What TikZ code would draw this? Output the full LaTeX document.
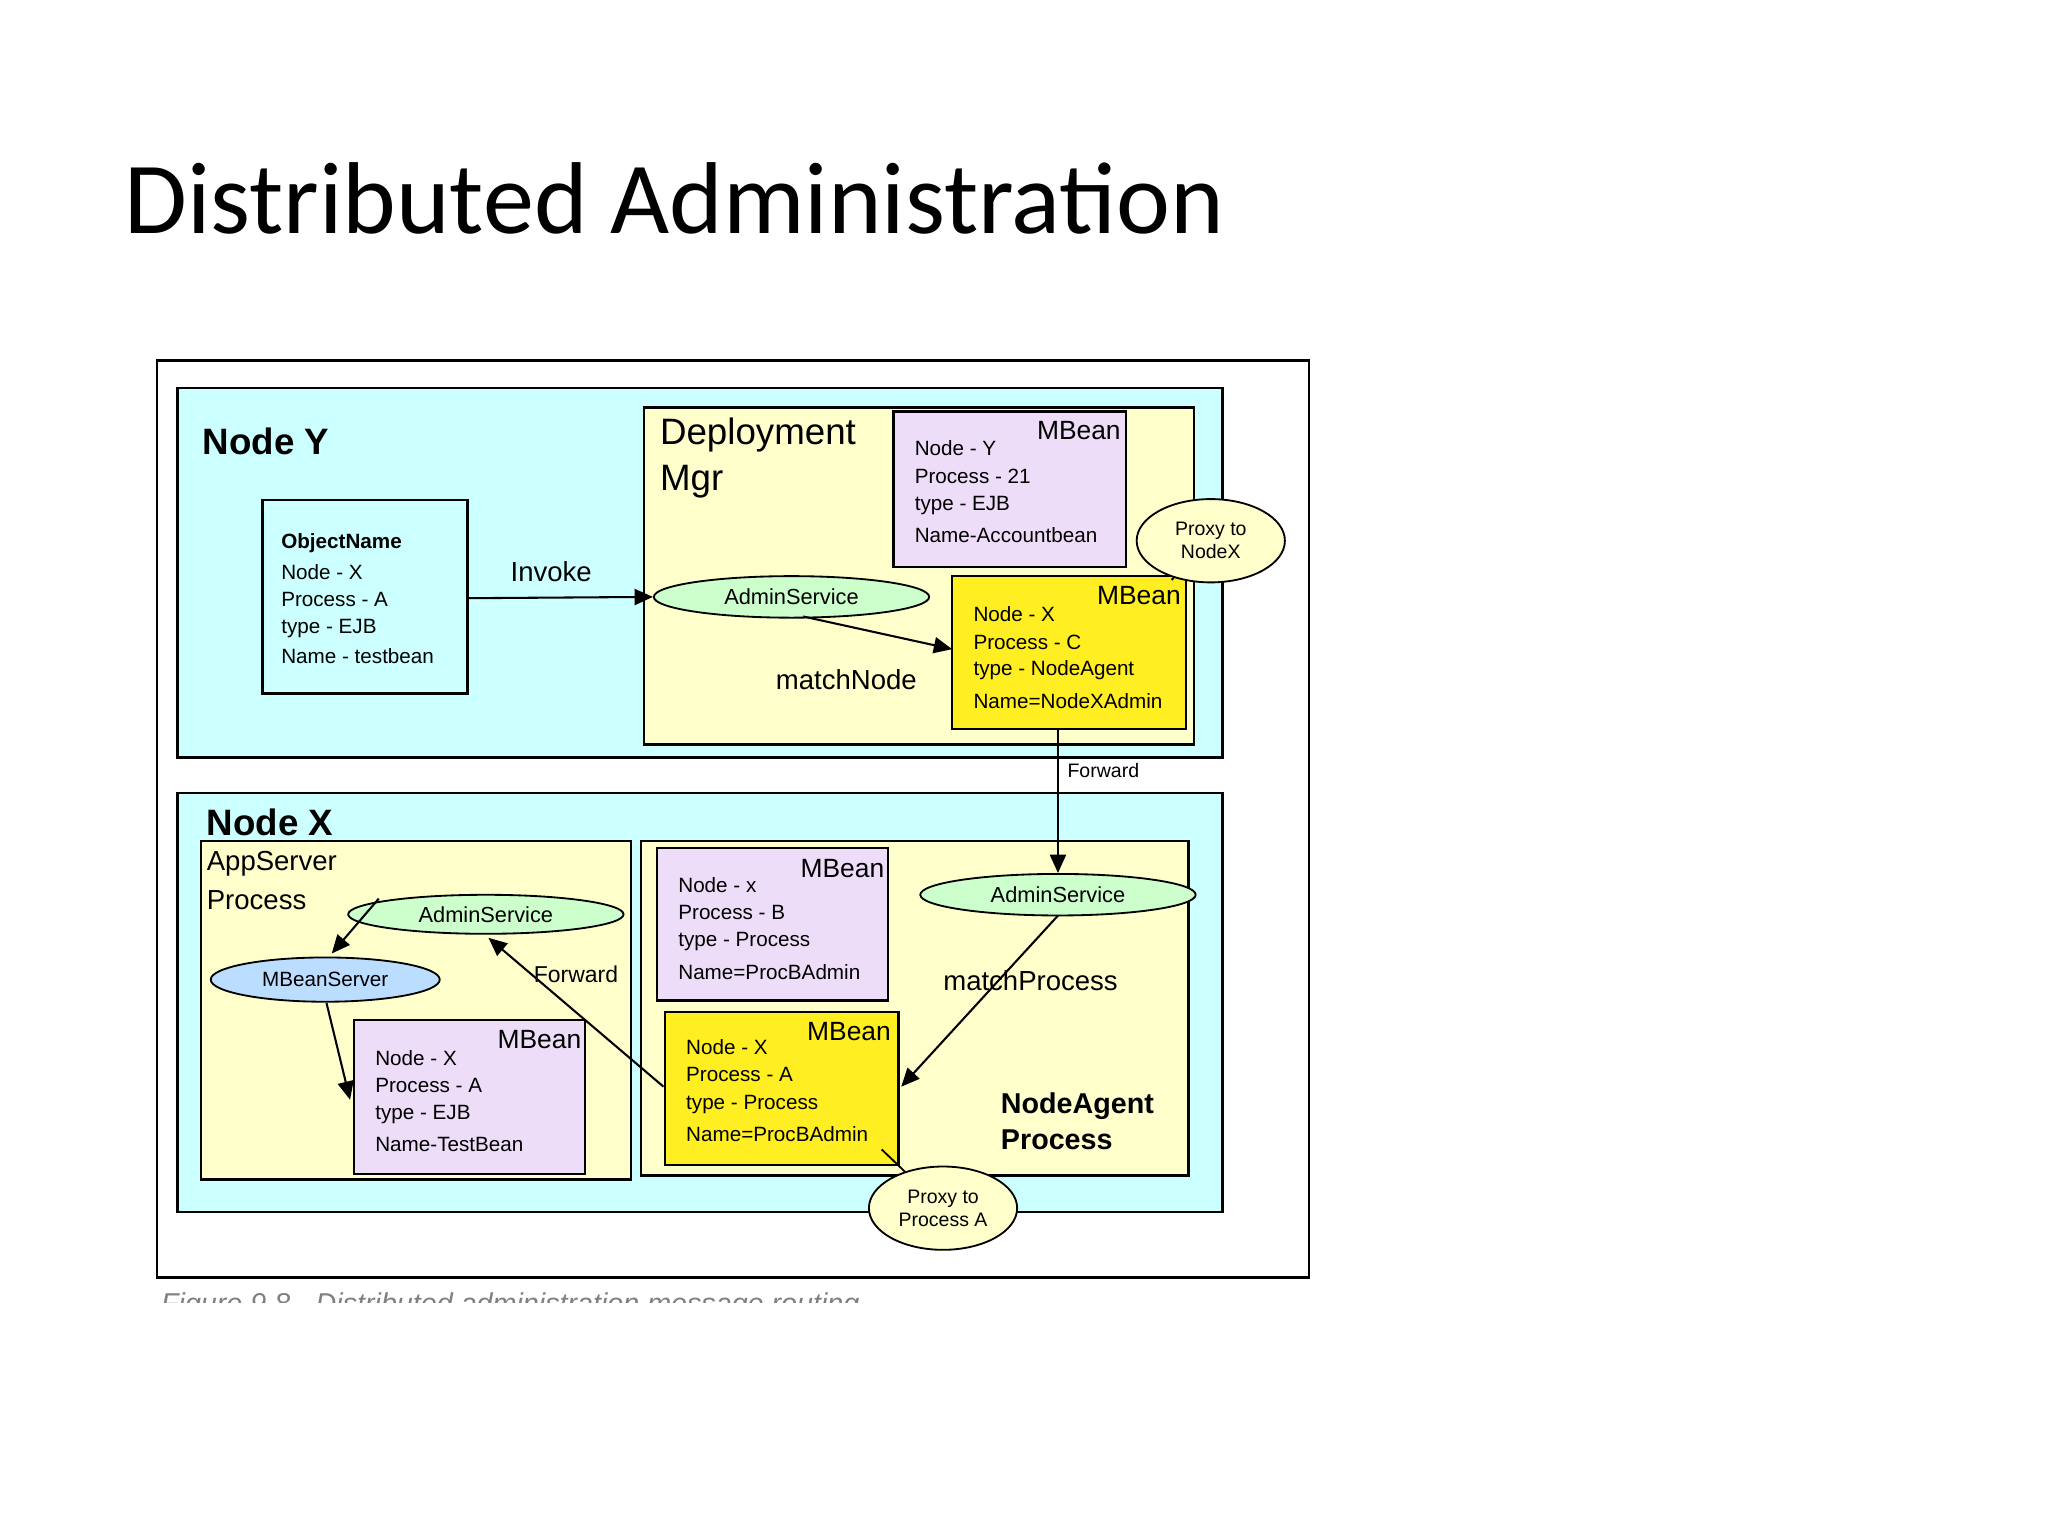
\documentclass[tikz,border=0pt]{standalone}
\usepackage{fontspec}
\setmainfont{Liberation Sans}
\newfontfamily\titlefont{Carlito}
\usetikzlibrary{arrows.meta,shapes.geometric}
\definecolor{cyanbg}{HTML}{CCFFFF}
\definecolor{ylbg}{HTML}{FFFFCC}
\definecolor{purp}{HTML}{EEDDF8}
\definecolor{yel}{HTML}{FFEE22}
\definecolor{grn}{HTML}{CCFFCC}
\definecolor{blu}{HTML}{BBDDFF}
\begin{document}
\begin{tikzpicture}[x=0.02cm,y=-0.02cm,
  box/.style={draw=black,line width=1pt},
  ell/.style={draw=black,ellipse,line width=0.8pt,inner sep=0},
  sm/.style={font=\fontsize{9}{10}\selectfont,anchor=west,inner sep=0},
  mb/.style={font=\fontsize{11.5}{12}\selectfont,inner sep=0},
  big/.style={font=\fontsize{16}{17}\selectfont\bfseries,anchor=west,inner sep=0},
  mid/.style={font=\fontsize{12}{13}\selectfont,inner sep=0},
  arr/.style={-{Triangle[length=8pt,width=7pt]},line width=0.9pt}]
\useasboundingbox (0,0) rectangle (1568,1176);
\fill[white] (0,0) rectangle (1568,1176);
\node[anchor=west,inner sep=0,font=\titlefont\fontsize{44.5}{46}\selectfont] (title) at (95,152) {Distributed Administration};
\draw[box,fill=white] (120,276) rectangle (1002,978);
% Node Y
\draw[box,fill=cyanbg] (136,297) rectangle (936,580);
\node[big] (ny) at (155,338) {Node Y};
\draw[box,fill=cyanbg] (201,383) rectangle (358,531);
\node[sm,font=\fontsize{9}{10}\selectfont\bfseries] (on) at (215,416) {ObjectName};
\node[sm] (on1) at (215,438) {Node - X};
\node[sm] (on2) at (215,459) {Process - A};
\node[sm] (on3) at (215,481) {type - EJB};
\node[sm] (on4) at (215,502) {Name - testbean};
\coordinate (objr) at (358,458);
\draw[box,fill=ylbg] (493,312) rectangle (914,570);
\node[sm,font=\fontsize{16}{17}\selectfont] (dm1) at (505,333) {Deployment};
\node[sm,font=\fontsize{16}{17}\selectfont] (dm2) at (505,369) {Mgr};
\draw[box,fill=purp] (684,315) rectangle (862,434);
\node[mb] (mb1) at (826,330) {MBean};
\node[sm] (a1) at (700,343) {Node - Y};
\node[sm] (a2) at (700,365) {Process - 21};
\node[sm] (a3) at (700,387) {type - EJB};
\node[sm] (a4) at (700,410) {Name-Accountbean};
\draw[box,fill=yel] (729,441) rectangle (908,558);
\node[mb] (mb2) at (872,456) {MBean};
\node[sm] (b1) at (745,470) {Node - X};
\node[sm] (b2) at (745,492) {Process - C};
\node[sm] (b3) at (745,513) {type - NodeAgent};
\node[sm] (b4) at (745,537) {Name=NodeXAdmin};
\node[ell,fill=ylbg,minimum width=64.6pt,minimum height=36.3pt,align=center,font=\fontsize{8.5}{10}\selectfont] (px) at (927,414) {Proxy to\\NodeX};
\draw[line width=0.8pt] (px) -- (897,444);
\node[ell,fill=grn,minimum width=120pt,minimum height=18.1pt,font=\fontsize{9.5}{10}\selectfont] (as1) at (606,457) {AdminService};
\node[mid] (inv) at (422,438) {Invoke};
\draw[arr] (objr) -- (as1.west);
\node[mid] (mn) at (648,520) {matchNode};
\draw[arr] (615,472) -- (729,497);
% Node X
\draw[box,fill=cyanbg] (136,607) rectangle (936,928);
\node[big] (nx) at (158,630) {Node X};
\draw[box,fill=ylbg] (154,644) rectangle (483,903);
\node[sm,font=\fontsize{12}{13}\selectfont] (ap1) at (158,661) {AppServer};
\node[sm,font=\fontsize{12}{13}\selectfont] (ap2) at (158,689) {Process};
\node[ell,fill=grn,minimum width=120pt,minimum height=17pt,font=\fontsize{9.5}{10}\selectfont] (as2) at (372,700) {AdminService};
\node[ell,fill=blu,minimum width=99.8pt,minimum height=19.3pt,font=\fontsize{9}{10}\selectfont] (ms) at (249,750) {MBeanServer};
\draw[box,fill=purp] (271,781) rectangle (448,899);
\node[mb] (mb3) at (413,796) {MBean};
\node[sm] (c1) at (287,810) {Node - X};
\node[sm] (c2) at (287,831) {Process - A};
\node[sm] (c3) at (287,853) {type - EJB};
\node[sm] (c4) at (287,876) {Name-TestBean};
\draw[arr] (290,688) -- (254,730);
\draw[arr] (250,768) -- (268,842);
\draw[box,fill=ylbg] (491,644) rectangle (910,900);
\draw[box,fill=purp] (503,649) rectangle (680,766);
\node[mb] (mb4) at (645,665) {MBean};
\node[sm] (d1) at (519,678) {Node - x};
\node[sm] (d2) at (519,699) {Process - B};
\node[sm] (d3) at (519,721) {type - Process};
\node[sm] (d4) at (519,744) {Name=ProcBAdmin};
\draw[box,fill=yel] (509,775) rectangle (688,892);
\node[mb] (mb5) at (650,790) {MBean};
\node[sm] (e1) at (525,802) {Node - X};
\node[sm] (e2) at (525,823) {Process - A};
\node[sm] (e3) at (525,846) {type - Process};
\node[sm] (e4) at (525,868) {Name=ProcBAdmin};
\node[ell,fill=grn,minimum width=120pt,minimum height=18.1pt,font=\fontsize{9.5}{10}\selectfont] (as3) at (810,685) {AdminService};
\node[mid] (mp) at (789,751) {matchProcess};
\draw[arr] (810,701) -- (690,832);
\node[sm,font=\fontsize{12.5}{13}\selectfont\bfseries] (na1) at (766,847) {NodeAgent};
\node[sm,font=\fontsize{12.5}{13}\selectfont\bfseries] (na2) at (766,873) {Process};
\draw[arr] (508,832) -- (374,718);
\node[mid,font=\fontsize{10}{11}\selectfont] (fw2) at (441,746) {Forward};
\node[ell,fill=ylbg,minimum width=64.6pt,minimum height=36.3pt,align=center,font=\fontsize{8.5}{10}\selectfont] (pa) at (722,925) {Proxy to\\Process A};
\draw[line width=0.8pt] (pa) -- (675,880);
% Forward
\draw[arr] (810,558) -- (as3.north);
\node[sm,font=\fontsize{8.5}{10}\selectfont] (fw1) at (817,590) {Forward};
% caption (cut)
\begin{scope}
\clip (110,980) rectangle (700,997);
\node[sm,font=\fontsize{12.5}{13}\selectfont\itshape,text=gray] (cap) at (123,1000) {Figure 9.8 - Distributed administration message routing};
\end{scope}
\end{tikzpicture}
\end{document}
